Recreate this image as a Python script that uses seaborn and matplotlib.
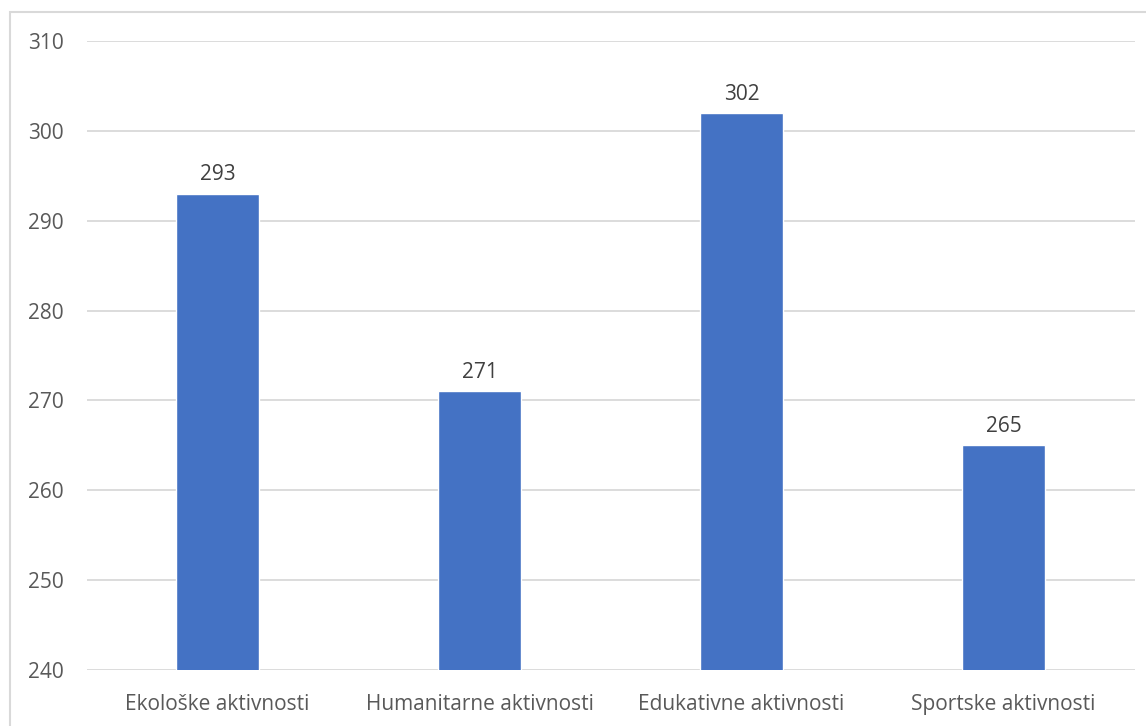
'''
    Bar chart of activity counts per category
'''

import matplotlib
matplotlib.use('Agg')
import matplotlib.pyplot as plt
from matplotlib.patches import Rectangle
import seaborn as sns

# --
# Data

categories = ['Ekološke aktivnosti', 'Humanitarne aktivnosti',
              'Edukativne aktivnosti', 'Sportske aktivnosti']
values = [293, 271, 302, 265]
yticks = [240, 250, 260, 270, 280, 290, 300, 310]

# --
# Plot

sns.set_style('white')
plt.rcParams['font.family'] = ['Open Sans', 'DejaVu Sans']

W, H = 1146, 726
fig = plt.figure(figsize=(W / 100, H / 100), dpi=100)
ax = fig.add_axes([86.5 / W, 1 - 670 / H, 1048 / W, 629 / H])

sns.barplot(x=categories, y=values, color='#4472C4', saturation=1,
            width=0.317, ax=ax, zorder=3)

ax.set_ylim(240, 310)
ax.set_yticks(yticks)
ax.set_xlim(-0.5, 3.5)
ax.yaxis.grid(True, color='#d9d9d9', linewidth=1.3, zorder=0)
ax.xaxis.grid(False)
for s in ax.spines.values():
    s.set_visible(False)
ax.tick_params(axis='both', length=0, labelsize=15, labelcolor='#595959')
ax.tick_params(axis='y', pad=16.5)
ax.tick_params(axis='x', pad=17)
ax.set_xlabel('')
ax.set_ylabel('')

ax.bar_label(ax.containers[0], padding=6, fontsize=15, color='#404040')

# chart area frame
fig.patches.append(Rectangle((10 / W, -0.1), 1.2, 1 - 12 / H + 0.1,
                             transform=fig.transFigure, fill=False,
                             edgecolor='#d9d9d9', linewidth=1.5))

fig.savefig('out.png', dpi=100)
